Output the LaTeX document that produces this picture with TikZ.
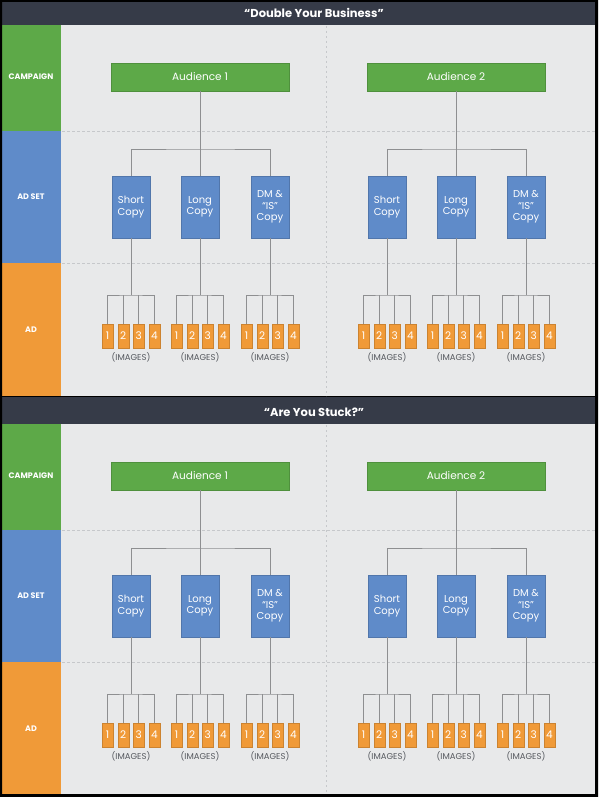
\documentclass[tikz,border=0pt]{standalone}
\usepackage{fontspec}
\setmainfont{Poppins}
\usepackage{tikz}
\usetikzlibrary{calc}

\definecolor{hdrdark}{HTML}{363B48}
\definecolor{campgreen}{HTML}{5DA948}
\definecolor{setblue}{HTML}{5F8BC9}
\definecolor{adorange}{HTML}{F09A38}
\definecolor{panelbg}{HTML}{E8E9EA}
\definecolor{linkgray}{HTML}{8E8F91}
\definecolor{sepgray}{HTML}{C6C8CB}
\definecolor{capgray}{HTML}{55585E}

\begin{document}
\begin{tikzpicture}[x=1pt,y=-1pt,
	title/.style={text=white, font=\fontsize{11.5}{13}\selectfont\bfseries},
	rowlbl/.style={text=white, font=\fontsize{8}{9}\selectfont\bfseries},
	aud/.style={fill=campgreen, draw=campgreen!85!black, line width=0.4pt, minimum width=178pt, minimum height=28pt, inner sep=0pt, text=white, font=\fontsize{10.5}{12}\selectfont},
	adset/.style={fill=setblue, draw=setblue!85!black, line width=0.4pt, minimum width=38pt, minimum height=62pt, inner sep=0pt, align=center, text=white, font=\fontsize{10}{11.5}\selectfont},
	img/.style={fill=adorange, draw=adorange!85!black, line width=0.3pt, minimum width=11pt, minimum height=24pt, inner sep=0pt, text=white, font=\fontsize{10.5}{11}\selectfont},
	imgcap/.style={text=capgray, font=\fontsize{8.5}{10}\selectfont},
	link/.style={draw=linkgray, line width=0.8pt},
	sep/.style={draw=sepgray, line width=0.6pt, dash pattern=on 3pt off 2pt}
	]
	\useasboundingbox (0,0) rectangle (598,797);
	
	% background
	\fill[black] (0,0) rectangle (598,797);
	
	\foreach \p/\oy/\ttl in {1/0/{“Double Your Business”}, 2/399/{“Are You Stuck?”}}{
		% header bar
		\fill[hdrdark] (2,\oy-2) rectangle (596,\oy+25);
		\node[title] (title-\p) at (314,\oy+13) {\ttl};
		
		% row labels
		\fill[campgreen] (2,\oy+25) rectangle (61,\oy+131);
		\fill[setblue] (2,\oy+131) rectangle (61,\oy+263);
		\fill[adorange] (2,\oy+263) rectangle (61,\oy+396);
		\node[rowlbl] (camp-\p) at (31,\oy+77) {CAMPAIGN};
		\node[rowlbl] (set-\p) at (31,\oy+197) {AD SET};
		\node[rowlbl] (ad-\p) at (31,\oy+330) {AD};
		
		% panel and separators
		\fill[panelbg] (61,\oy+25) rectangle (596,\oy+396);
		\draw[sep] (62,\oy+131) -- (595,\oy+131);
		\draw[sep] (62,\oy+263) -- (595,\oy+263);
		\draw[sep, dash pattern=on 2pt off 3pt] (326,\oy+26) -- (326,\oy+396);
		
		\foreach \a in {1,2}{
			\pgfmathsetmacro\ax{200+(\a-1)*256} % audience centre
			
			% campaign box
			\node[aud] (aud-\p-\a) at (\ax,\oy+77) {Audience \a};
			\coordinate (bar-\p-\a) at (\ax,\oy+149);
			
			% ad sets
			\foreach \s/\dx/\txt in {1/-69/{Short\\Copy}, 2/0/{Long\\Copy}, 3/70/{DM \&\\“IS”\\Copy}}{
				\pgfmathsetmacro\sx{\ax+\dx}
				\node[adset] (set-\p-\a-\s) at (\sx,\oy+207) {\txt};
				\coordinate (ibar-\p-\a-\s) at (\sx,\oy+295);
				
				% ads (images)
				\foreach \i/\ix in {1/-23.5,2/-7.8,3/7.8,4/23.5}
				\node[img] (img-\p-\a-\s-\i) at (\sx+\ix,\oy+336) {\i};
				\node[imgcap] (cap-\p-\a-\s) at (\sx,\oy+357) {(IMAGES)};
				
				\draw[link] (set-\p-\a-\s.south) -- (ibar-\p-\a-\s);
				\draw[link] (img-\p-\a-\s-1.north) |- (ibar-\p-\a-\s) -| (img-\p-\a-\s-4.north);
				\draw[link] (img-\p-\a-\s-2.north) -- (img-\p-\a-\s-2.north |- ibar-\p-\a-\s);
				\draw[link] (img-\p-\a-\s-3.north) -- (img-\p-\a-\s-3.north |- ibar-\p-\a-\s);
			}
			
			% campaign to ad sets
			\draw[link] (aud-\p-\a.south) -- (set-\p-\a-2.north);
			\draw[link] (set-\p-\a-1.north) |- (bar-\p-\a) -| (set-\p-\a-3.north);
		}
	}
	
	% outer frame
	\fill[black, even odd rule] (0,0) rectangle (598,797) (2,2) rectangle (595,794);
\end{tikzpicture}
\end{document}
